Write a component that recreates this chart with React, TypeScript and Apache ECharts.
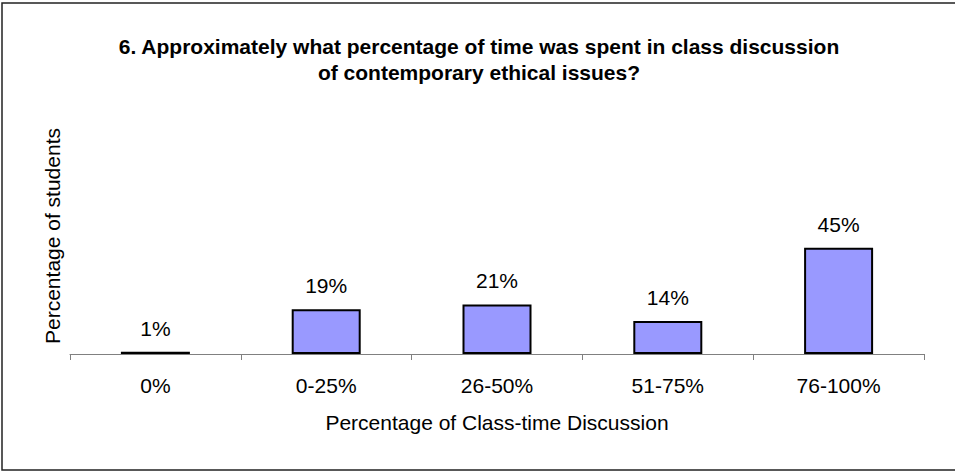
import React, { useEffect, useRef } from "react";
import * as echarts from "echarts";

const titleLines = [
  "6. Approximately what percentage of time was spent in class discussion",
  "of contemporary ethical issues?",
];
const categories = ["0%", "0-25%", "26-50%", "51-75%", "76-100%"];
const values = [1, 19, 21, 14, 45];
const xAxisName = "Percentage of Class-time Discussion";
const yAxisName = "Percentage of students";

export default function App() {
  const ref = useRef<HTMLDivElement>(null);
  useEffect(() => {
    if (!ref.current) return;
    const chart = echarts.init(ref.current, null, { renderer: "svg" });
    const font = "'Liberation Sans', Arial, sans-serif";
    chart.setOption({
      animation: false,
      backgroundColor: "#ffffff",
      textStyle: { fontFamily: font },
      title: {
        text: titleLines.join("\n"),
        left: 474,
        textAlign: "center",
        top: 28,
        textStyle: {
          fontFamily: font,
          fontSize: 21,
          fontWeight: "bold",
          color: "#000",
          lineHeight: 26,
        },
      },
      graphic: [
        {
          type: "rect",
          shape: { x: 2, y: 3, width: 980, height: 467 },
          style: { fill: "none", stroke: "#222", lineWidth: 1.5 },
          silent: true,
          z: -1,
        },
      ],
      grid: { left: 70, right: 31, top: 118, bottom: 118 },
      xAxis: {
        type: "category",
        data: categories,
        name: xAxisName,
        nameLocation: "middle",
        nameGap: 58,
        nameTextStyle: { fontFamily: font, fontSize: 21, color: "#000" },
        axisLine: { lineStyle: { color: "#808080", width: 1 } },
        axisTick: { show: true, length: 6, inside: false, lineStyle: { color: "#808080" } },
        axisLabel: { fontFamily: font, fontSize: 21, color: "#000", margin: 21 },
      },
      yAxis: {
        type: "value",
        min: 0,
        max: 100,
        name: yAxisName,
        nameLocation: "middle",
        nameGap: 7,
        nameRotate: 90,
        nameTextStyle: { fontFamily: font, fontSize: 21, color: "#000" },
        axisLine: { show: false },
        axisTick: { show: false },
        axisLabel: { show: false },
        splitLine: { show: false },
      },
      series: [
        {
          type: "bar",
          data: values,
          barWidth: 69,
          itemStyle: { color: "#9999FF", borderColor: "#000", borderWidth: 2 },
          label: {
            show: true,
            position: "top",
            distance: 13,
            formatter: "{c}%",
            fontFamily: font,
            fontSize: 21,
            color: "#000",
          },
        },
      ],
    });
    return () => chart.dispose();
  }, []);
  return (
    <div
      ref={ref}
      style={{ position: "fixed", left: 0, top: 0, width: 955, height: 472 }}
    />
  );
}
